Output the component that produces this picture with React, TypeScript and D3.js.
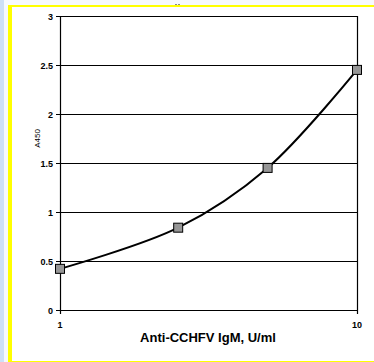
import * as d3 from 'd3';
import React, { useEffect } from 'react';

const concentrations = [1, 2.5, 5, 10];
const absorbance = [0.42, 0.84, 1.45, 2.45];
const yTicks = [0, 0.5, 1, 1.5, 2, 2.5, 3];
const xTicks = [1, 10];

export default function App() {
  const ref = React.useRef<SVGSVGElement>(null);

  useEffect(() => {
    if (!ref.current) return;
    const svg = d3.select(ref.current);
    svg.selectAll('*').remove();

    const W = 374;
    const H = 362;
    const font = 'Arial, "Liberation Sans", sans-serif';

    // page background + yellow frame
    svg.append('rect').attr('width', W).attr('height', H).attr('fill', '#f6f9fd');
    svg.append('rect').attr('x', 0).attr('y', 0).attr('width', 4).attr('height', H).attr('fill', '#cde0f7');
    svg.append('rect').attr('x', 8).attr('y', 5).attr('width', W - 8).attr('height', H - 5).attr('fill', '#ffff00');
    svg.append('rect').attr('x', 12).attr('y', 7).attr('width', W - 12).attr('height', H - 8).attr('fill', '#ffffff');

    // tiny marks above the frame
    svg.append('rect').attr('x', 175).attr('y', 4).attr('width', 2).attr('height', 1).attr('fill', '#888');
    svg.append('rect').attr('x', 178).attr('y', 4).attr('width', 2).attr('height', 1).attr('fill', '#888');

    const x = d3.scaleLog().domain([1, 10]).range([60, 357]);
    const y = d3.scaleLinear().domain([0, 3]).range([310, 16]);

    // gridlines
    svg
      .append('g')
      .selectAll('line')
      .data(yTicks)
      .enter()
      .append('line')
      .attr('x1', x(1) - 4)
      .attr('x2', x(10))
      .attr('y1', d => y(d) + 0.5)
      .attr('y2', d => y(d) + 0.5)
      .attr('stroke', '#000')
      .attr('stroke-width', 1.2);

    // left axis and right border
    svg.append('line').attr('x1', x(1) + 0.5).attr('x2', x(1) + 0.5).attr('y1', y(3)).attr('y2', y(0) + 4).attr('stroke', '#000').attr('stroke-width', 1.2);
    svg.append('line').attr('x1', x(10) + 0.5).attr('x2', x(10) + 0.5).attr('y1', y(3)).attr('y2', y(0) + 4).attr('stroke', '#000').attr('stroke-width', 1.2);

    // y tick labels
    svg
      .append('g')
      .selectAll('text')
      .data(yTicks)
      .enter()
      .append('text')
      .attr('x', x(1) - 7)
      .attr('y', d => y(d) + 3.5)
      .attr('text-anchor', 'end')
      .attr('font-family', font)
      .attr('font-size', 9)
      .attr('font-weight', 'bold')
      .attr('fill', '#000')
      .text(d => d3.format('')(d));

    // x tick labels
    svg
      .append('g')
      .selectAll('text')
      .data(xTicks)
      .enter()
      .append('text')
      .attr('x', d => x(d))
      .attr('y', 328)
      .attr('text-anchor', 'middle')
      .attr('font-family', font)
      .attr('font-size', 9)
      .attr('font-weight', 'bold')
      .attr('fill', '#000')
      .text(d => String(d));

    // axis titles
    svg
      .append('text')
      .attr('transform', `translate(40,${y(1.75)}) rotate(-90)`)
      .attr('text-anchor', 'middle')
      .attr('font-family', font)
      .attr('font-size', 8)
      .attr('fill', '#000')
      .text('A450');
    svg
      .append('text')
      .attr('x', 208)
      .attr('y', 342)
      .attr('text-anchor', 'middle')
      .attr('font-family', font)
      .attr('font-size', 13)
      .attr('font-weight', 'bold')
      .attr('fill', '#000')
      .text('Anti-CCHFV IgM, U/ml');

    // smoothed line
    const pts = concentrations.map((c, i) => [x(c), y(absorbance[i])] as [number, number]);
    svg
      .append('path')
      .attr('d', d3.line().curve(d3.curveCatmullRom.alpha(0.5))(pts))
      .attr('fill', 'none')
      .attr('stroke', '#000')
      .attr('stroke-width', 2);

    // markers
    svg
      .append('g')
      .selectAll('rect')
      .data(pts)
      .enter()
      .append('rect')
      .attr('x', d => d[0] - 4.5)
      .attr('y', d => d[1] - 4.5)
      .attr('width', 9)
      .attr('height', 9)
      .attr('fill', '#969696')
      .attr('stroke', '#000')
      .attr('stroke-width', 1);
  }, []);

  return (
    <svg
      ref={ref}
      width={374}
      height={362}
      style={{ position: 'absolute', left: 0, top: 0 }}
    />
  );
}
